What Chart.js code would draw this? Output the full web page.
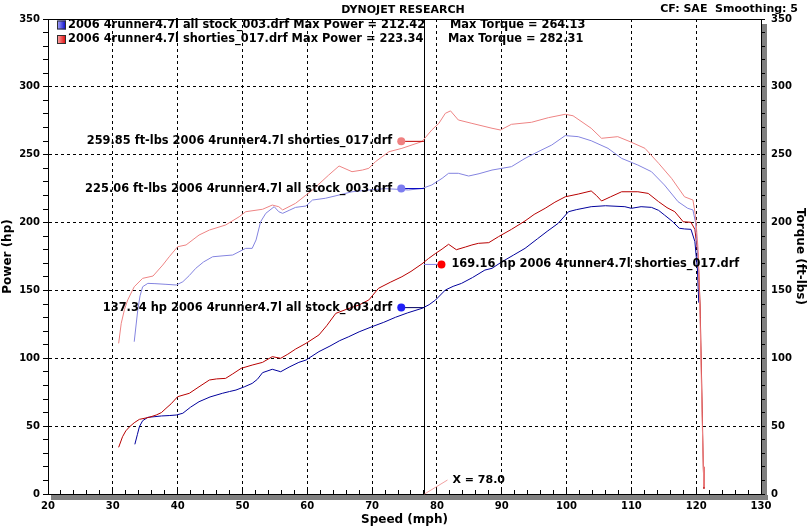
<!DOCTYPE html>
<html>
<head>
<meta charset="utf-8">
<script src="https://cdn.jsdelivr.net/npm/chart.js@4/dist/chart.umd.min.js"></script>
<style>
  html, body { margin: 0; padding: 0; background: #fff; }
  #wrap { width: 809px; height: 527px; }
</style>
</head>
<body>
<div id="wrap"><canvas id="dyno" width="809" height="527"></canvas></div>
<script>
// Run data (speed in mph)
const stockHpSpeed = [33.4, 33.8, 34.1, 34.6, 35.4, 36.5, 37.5, 38.7, 39.8, 40.8,
  42.0, 43.3, 45.0, 46.9, 48.0, 49.0, 50.3, 51.5, 52.3, 53.1,
  54.6, 55.9, 57.2, 58.7, 59.8, 61.8, 63.5, 65.0, 66.4, 68.0,
  70.0, 71.8, 73.6, 75.5, 77.7, 78.8, 79.8, 81.3, 82.5, 83.8,
  85.5, 87.4, 88.5, 90.0, 91.8, 93.6, 95.5, 97.0, 98.7, 100.3,
  101.5, 103.8, 106.0, 109.0, 110.0, 111.5, 113.1, 114.2, 115.1, 116.3,
  117.4, 118.2, 119.2, 119.8, 120.2, 120.4];
const stockHp = [36.6, 44, 49.6, 54, 56.5, 57, 57.5, 57.8, 58.2, 59.5,
  64, 68, 71.5, 74.2, 75.5, 76.6, 79, 81.5, 84.5, 89.4,
  91.9, 90.1, 93.5, 97, 98.7, 104.9, 109, 113, 115.9, 119.5,
  123.3, 126.5, 130.2, 133.5, 136.8, 139.5, 143, 150.3, 153, 155.2,
  159.5, 165, 166.3, 171, 176, 181, 188, 193.5, 199.4, 208,
  209.5, 211.7, 212.4, 211.7, 210.5, 211.7, 211.2, 209, 205.6, 201,
  195.8, 195.3, 195, 186, 165, 141];

const shortiesHpSpeed = [30.9, 31.5, 32.0, 32.6, 33.3, 34.1, 35.6, 36.7, 37.5, 38.2,
  39.0, 40.0, 41.8, 43.3, 44.9, 46.0, 47.4, 48.5, 49.8, 51.5,
  53.1, 54.6, 55.9, 57.0, 58.2, 59.8, 61.8, 63.0, 64.4, 66.0,
  68.0, 69.5, 71.0, 72.8, 74.6, 76.0, 77.7, 78.7, 79.8, 80.8,
  81.8, 83.0, 84.4, 85.4, 86.4, 88.0, 89.5, 91.5, 93.6, 95.0,
  96.7, 98.2, 99.8, 101.8, 103.8, 104.6, 105.4, 106.8, 108.5, 111.0,
  112.6, 114.2, 115.5, 116.7, 118.0, 119.2, 119.8, 120.3, 120.6, 120.9,
  121.1, 121.2];
const shortiesHp = [34.4, 42.2, 46.5, 49.6, 52.5, 55, 56.5, 58.2, 60, 63.1,
  66.5, 71.7, 74.2, 79, 84, 84.8, 85.2, 88.5, 92.6, 95,
  97, 101.2, 100, 103, 106.8, 111, 117.2, 124, 133.1, 136,
  139.3, 143, 151.6, 156, 160.1, 164, 169.6, 173.5, 177.3, 180.5,
  184, 180, 182, 183.5, 184.7, 185.2, 189.6, 195, 201.2, 206,
  210.5, 215, 219, 221, 223.3, 220, 215.9, 219, 222.7, 222.7,
  221.5, 215.4, 211, 208, 200.6, 200.2, 195, 175, 140, 70,
  20, 4];

const stockTqSpeed = [33.3, 33.85, 34.2, 34.6, 35.4, 36.5, 38.2, 39.8, 40.8, 41.8,
  42.8, 44.0, 45.4, 47.0, 48.5, 50.5, 51.5, 52.1, 52.8, 53.6,
  54.9, 55.6, 56.2, 57.2, 58.2, 59.8, 60.8, 62.8, 64.9, 66.9,
  69.5, 72.0, 74.0, 75.6, 77.7, 79.2, 80.8, 81.8, 83.3, 84.9,
  86.5, 88.5, 91.5, 93.6, 95.6, 97.7, 99.8, 101.8, 103.8, 106.4,
  108.5, 111.0, 113.1, 115.1, 117.2, 118.7, 119.5, 119.9, 120.2, 120.4];
const stockTq = [112.2, 135.6, 146, 152.7, 155.2, 155, 154.5, 154, 156.4, 161,
  166.3, 171, 174.8, 175.5, 176.1, 181, 181, 187.2, 200.6, 206.8,
  211.7, 208, 206.8, 209, 211.2, 212.2, 216.6, 217.9, 220.3, 222.7,
  224, 225, 224.5, 224, 225.1, 227.7, 232.6, 236.3, 236.3, 234.3,
  236, 238.7, 241.2, 247.3, 252.2, 257.1, 264.1, 263.3, 260.3, 254.7,
  247.3, 242.4, 237.5, 227.7, 215.4, 210.5, 209.3, 200, 180, 162];

const shortiesTqSpeed = [30.9, 31.3, 31.8, 32.3, 33.3, 34.6, 36.2, 37.7, 38.7, 40.0,
  41.3, 43.3, 44.9, 47.4, 49.5, 50.5, 53.1, 54.6, 55.6, 56.2,
  58.2, 60.8, 63.3, 64.9, 66.9, 68.5, 69.5, 70.5, 72.6, 74.6,
  77.7, 79.2, 80.3, 81.3, 82.1, 83.3, 85.4, 88.5, 89.8, 91.5,
  94.6, 97.2, 99.8, 101.0, 103.8, 105.4, 107.9, 109.8, 112.1, 114.2,
  116.2, 118.2, 119.5, 119.9, 120.3, 120.6, 120.9, 121.1, 121.2];
const shortiesTq = [111, 125.8, 136, 143, 152.7, 158.9, 160.6, 168.7, 174.8, 182.2,
  183.5, 190.8, 194.5, 198.2, 204.3, 208, 209.8, 212.9, 211.7, 209.3,
  214.2, 224, 235, 241.7, 237.5, 238.7, 240, 244.8, 252.2, 254.7,
  259.7, 268.2, 273.1, 280.5, 282.3, 275.6, 273.1, 269.5, 268.2, 272.4,
  273.9, 277.3, 279.8, 278.7, 269.5, 262.1, 263.3, 259.6, 254.7, 243.7,
  232.6, 219, 216.6, 205, 180, 130, 60, 20, 5];

// Cursor readouts at X = 78.0
const cursorSpeed = 78.0;
const readoutSpeeds = [74.5, 74.5, 74.5, 80.7];
const readoutValues = [259.85, 225.06, 137.34, 169.16];
const readoutUnits = ['ft-lbs', 'ft-lbs', 'hp', 'hp'];
const readoutRuns = ['2006 4runner4.7l shorties_017.drf', '2006 4runner4.7l all stock_003.drf',
  '2006 4runner4.7l all stock_003.drf', '2006 4runner4.7l shorties_017.drf'];
const readoutDotColors = ['#f08080', '#7c7cf0', '#2020f8', '#ff0000'];
const readoutLineColors = ['#c00000', '#0000c0', '#000060', '#8080e8'];

const runNames = ['2006 4runner4.7l all stock_003.drf', '2006 4runner4.7l shorties_017.drf'];
const maxPower = [212.42, 223.34];
const maxTorque = [264.13, 282.31];

const yTicks = [0, 50, 100, 150, 200, 250, 300, 350];

const FONT = '"DejaVu Sans", Verdana, sans-serif';
Chart.defaults.font.family = FONT;
Chart.defaults.color = '#000';

const toPoints = (xs, ys) => xs.map((x, i) => ({ x: x, y: ys[i] }));
const isMajor = (v, step) => Math.abs(v / step - Math.round(v / step)) < 1e-6;

const lineSet = (data, color, axis) => ({
  data: data, yAxisID: axis, borderColor: color, borderWidth: 1,
  pointRadius: 0, showLine: true, tension: 0
});

const datasets = [
  {
    data: toPoints(readoutSpeeds, readoutValues), yAxisID: 'y',
    pointRadius: 4, pointBorderWidth: 0, pointBackgroundColor: readoutDotColors, showLine: false
  }
];
readoutValues.forEach((v, i) => {
  datasets.push(lineSet([{ x: readoutSpeeds[i], y: v }, { x: cursorSpeed, y: v }], readoutLineColors[i], 'y'));
});
datasets.push(lineSet(toPoints(shortiesTqSpeed, shortiesTq), '#ee8484', 'y2'));
datasets.push(lineSet(toPoints(stockTqSpeed, stockTq), '#8484e0', 'y2'));
datasets.push(lineSet(toPoints(shortiesHpSpeed, shortiesHp), '#b80000', 'y'));
datasets.push(lineSet(toPoints(stockHpSpeed, stockHp), '#00009c', 'y'));

const gridColor = step => c => (c.tick && isMajor(c.tick.value, step)) ? '#000' : 'rgba(0,0,0,0)';
const tickFont = { family: FONT, size: 10, weight: 'bold' };
const titleFont = { family: FONT, size: 12, weight: 'bold' };
const LABEL_FONT = 'bold 11.4px ' + FONT;

const dynoDecor = {
  id: 'dynoDecor',
  beforeDraw(chart) {
    const { ctx, chartArea: a } = chart;
    ctx.save();
    ctx.fillStyle = '#808080';
    ctx.fillRect(a.right + 1, a.top + 5, 5, a.bottom - a.top + 1);
    ctx.fillRect(a.left + 3, a.bottom + 1, a.right - a.left + 4, 5);
    ctx.restore();
  },
  beforeDatasetsDraw(chart) {
    // cursor line at X = 78.0, kept on a whole pixel
    const { ctx, chartArea: a, scales } = chart;
    const cx = Math.round(scales.x.getPixelForValue(cursorSpeed)) + 0.5;
    ctx.save();
    ctx.strokeStyle = '#000';
    ctx.lineWidth = 1;
    ctx.beginPath();
    ctx.moveTo(cx, a.top);
    ctx.lineTo(cx, a.bottom);
    ctx.stroke();
    ctx.restore();
  },
  afterDraw(chart) {
    const { ctx, chartArea: a, scales } = chart;
    ctx.save();
    // top edge of the frame
    ctx.strokeStyle = '#000';
    ctx.lineWidth = 1;
    ctx.beginPath();
    ctx.moveTo(a.left + 0.5, a.top + 0.5);
    ctx.lineTo(a.right + 0.5, a.top + 0.5);
    ctx.stroke();

    ctx.fillStyle = '#000';
    ctx.textBaseline = 'middle';
    ctx.font = 'bold 11px ' + FONT;
    ctx.textAlign = 'center';
    ctx.fillText('DYNOJET RESEARCH', 403, 10);
    ctx.textAlign = 'right';
    ctx.fillText('CF: SAE  Smoothing: 5', 798, 9);

    // legend
    ctx.font = LABEL_FONT;
    const swatch = [['#b0b0ff', '#0000c8'], ['#ffb0b0', '#e00000']];
    runNames.forEach((name, i) => {
      const y = 25 + i * 14.5;
      const g = ctx.createLinearGradient(57, 0, 66, 0);
      g.addColorStop(0, swatch[i][0]);
      g.addColorStop(1, swatch[i][1]);
      ctx.fillStyle = g;
      ctx.fillRect(57, y - 4.5, 9, 9);
      ctx.strokeStyle = '#303030';
      ctx.strokeRect(57.5, y - 4, 8, 8);
      ctx.fillStyle = '#000';
      ctx.textAlign = 'left';
      ctx.fillText(name + ' Max Power = ' + maxPower[i].toFixed(2), 68, y);
      ctx.fillText('Max Torque = ' + maxTorque[i].toFixed(2), 450 - i * 2, y);
    });

    // cursor readout labels
    readoutValues.forEach((v, i) => {
      const px = scales.x.getPixelForValue(readoutSpeeds[i]);
      const py = scales.y.getPixelForValue(v);
      const txt = v.toFixed(2) + ' ' + readoutUnits[i] + ' ' + readoutRuns[i];
      if (readoutSpeeds[i] < cursorSpeed) {
        ctx.textAlign = 'right';
        ctx.fillText(txt, px - 9, py);
      } else {
        ctx.textAlign = 'left';
        ctx.fillText(txt, px + 10, py);
      }
    });

    // X readout
    const cx = Math.round(scales.x.getPixelForValue(cursorSpeed)) + 0.5;
    ctx.strokeStyle = '#f0a0a0';
    ctx.beginPath();
    ctx.moveTo(cx, a.bottom);
    ctx.lineTo(cx + 23, a.bottom - 14);
    ctx.stroke();
    ctx.textAlign = 'left';
    ctx.font = 'bold 11px ' + FONT;
    ctx.fillText('X = ' + cursorSpeed.toFixed(1), cx + 28, a.bottom - 14);
    ctx.restore();
  }
};

new Chart(document.getElementById('dyno'), {
  type: 'scatter',
  data: { datasets: datasets },
  plugins: [dynoDecor],
  options: {
    responsive: false,
    animation: false,
    events: [],
    layout: { padding: { top: 19 } },
    plugins: { legend: { display: false }, tooltip: { enabled: false } },
    scales: {
      x: {
        type: 'linear', min: 20, max: 130,
        afterFit: s => { s.height = 33; },
        ticks: {
          stepSize: 2, autoSkip: false, maxRotation: 0, padding: 10, font: tickFont,
          callback: v => isMajor(v, 10) ? v : ''
        },
        grid: { color: gridColor(10), tickColor: '#000', tickLength: -4 },
        border: { color: '#000', width: 1, dash: [3, 3] },
        title: { display: true, text: 'Speed (mph)', font: titleFont, padding: { top: 0, bottom: 0 } }
      },
      y: {
        type: 'linear', position: 'left', min: 0, max: 350,
        afterFit: s => { s.width = 48; },
        ticks: {
          stepSize: 10, autoSkip: false, padding: 3, font: tickFont,
          callback: v => yTicks.includes(v) ? v : ''
        },
        grid: { color: gridColor(50), tickColor: '#000', tickLength: 5 },
        border: { color: '#000', width: 1, dash: [3, 3] },
        title: { display: true, text: 'Power (hp)', font: titleFont, padding: { top: 1, bottom: 0 } }
      },
      y2: {
        type: 'linear', position: 'right', min: 0, max: 350,
        afterFit: s => { s.width = 48; },
        ticks: {
          stepSize: 10, autoSkip: false, padding: 6, font: tickFont,
          callback: v => yTicks.includes(v) ? v : ''
        },
        grid: { drawOnChartArea: false, tickColor: '#000', tickLength: 4 },
        border: { color: '#000', width: 1 },
        title: { display: true, text: 'Torque (ft-lbs)', font: titleFont, padding: { top: 2, bottom: 0 } }
      }
    }
  }
});
</script>
</body>
</html>
